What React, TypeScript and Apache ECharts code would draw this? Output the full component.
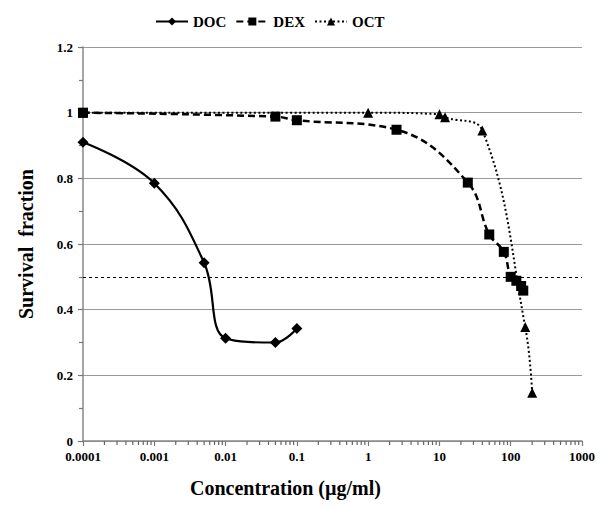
import React, { useEffect, useRef } from "react";
import * as echarts from "echarts";

const xTickLabels = ["0.0001", "0.001", "0.01", "0.1", "1", "10", "100", "1000"];
const xDecades = [0.0001, 0.001, 0.01, 0.1, 1, 10, 100];
const minorMultipliers = [2, 3, 4, 5, 6, 7, 8, 9];

const docX = [0.0001, 0.001, 0.005, 0.01, 0.05, 0.1];
const docY = [0.91, 0.785, 0.543, 0.313, 0.30, 0.343];

const dexX = [0.0001, 0.05, 0.1, 2.5, 25, 50, 80, 100, 120, 140, 150];
const dexY = [1.0, 0.988, 0.977, 0.948, 0.787, 0.629, 0.576, 0.50, 0.488, 0.472, 0.458];

const octX = [0.0001, 1, 10, 12, 40, 160, 200];
const octY = [1.0, 1.0, 0.995, 0.986, 0.946, 0.347, 0.147];

const FONT = "Liberation Serif";

function pairs(xs: number[], ys: number[]) {
  return xs.map((x, i) => [x, ys[i]]);
}

const minorTickValues: number[][] = [];
xDecades.forEach((d) => minorMultipliers.forEach((m) => minorTickValues.push([d * m, 0])));

export default function App() {
  const ref = useRef<HTMLDivElement>(null);
  useEffect(() => {
    if (!ref.current) return;
    const chart = echarts.init(ref.current, undefined, { renderer: "svg" });
    chart.setOption({
      animation: false,
      backgroundColor: "#fff",
      legend: {
        top: 1,
        left: 142,
        itemWidth: 32,
        itemHeight: 10,
        itemGap: 9,
        textStyle: { fontFamily: FONT, fontWeight: "bold", fontSize: 15, color: "#000" },
        data: ["DOC", "DEX", "OCT"],
      },
      grid: { left: 66, right: 15, top: 39, bottom: 52, containLabel: false },
      xAxis: {
        type: "log",
        logBase: 10,
        min: 0.0001,
        max: 1000,
        name: "Concentration (µg/ml)",
        nameLocation: "middle",
        nameGap: 37,
        nameTextStyle: {
          fontFamily: FONT,
          fontWeight: "bold",
          fontSize: 20,
          color: "#000000",
          padding: [0, 94, 0, 0],
        },
        axisLine: { show: true, lineStyle: { color: "#888", width: 1.5 } },
        axisTick: { show: true, length: 5, lineStyle: { color: "#777", width: 1.2 } },
        minorTick: { show: false },
        splitLine: { show: false },
        axisLabel: {
          fontFamily: FONT,
          fontWeight: "bold",
          fontSize: 13,
          color: "#000",
          margin: 9,
          formatter: (v: number) => xTickLabels[Math.round(Math.log10(v)) + 4],
        },
      },
      yAxis: {
        type: "value",
        min: 0,
        max: 1.2,
        interval: 0.2,
        name: "Survival  fraction",
        nameLocation: "middle",
        nameGap: 47,
        nameTextStyle: { fontFamily: FONT, fontWeight: "bold", fontSize: 20, color: "#000000" },
        axisLine: { show: true, lineStyle: { color: "#888", width: 1.5 } },
        axisTick: { show: true, length: 5, lineStyle: { color: "#777", width: 1.2 } },
        minorTick: { show: true, splitNumber: 2, length: 4, lineStyle: { color: "#777", width: 1.2 } },
        splitLine: { show: true, lineStyle: { color: "#999", width: 1.2 } },
        axisLabel: {
          fontFamily: FONT,
          fontWeight: "bold",
          fontSize: 13,
          color: "#000",
          margin: 10,
        },
      },
      series: [
        {
          name: "minorTicks",
          type: "custom",
          data: minorTickValues,
          silent: true,
          clip: false,
          z: 5,
          renderItem: (params: any, api: any) => {
            const p = api.coord([api.value(0), 0]);
            return {
              type: "line",
              shape: { x1: p[0], y1: p[1], x2: p[0], y2: p[1] + 4 },
              style: { stroke: "#666", lineWidth: 1.2 },
            };
          },
        },
        {
          name: "DOC",
          type: "line",
          data: pairs(docX, docY),
          smooth: 0.4,
          symbol: "diamond",
          symbolSize: 11,
          itemStyle: { color: "#000" },
          lineStyle: { color: "#000", width: 2.2, type: "solid" },
          z: 3,
        },
        {
          name: "DEX",
          type: "line",
          data: pairs(dexX, dexY),
          smooth: 0.4,
          symbol: "rect",
          symbolSize: 10,
          itemStyle: { color: "#000" },
          lineStyle: { color: "#000", width: 2.5, type: [7, 4] },
          z: 4,
          markLine: {
            silent: true,
            symbol: "none",
            label: { show: false },
            lineStyle: { color: "#000", width: 1, type: [3, 3] },
            data: [{ yAxis: 0.5 }],
          },
        },
        {
          name: "OCT",
          type: "line",
          data: pairs(octX, octY),
          smooth: 0.4,
          symbol: "triangle",
          symbolSize: 10,
          itemStyle: { color: "#000" },
          lineStyle: { color: "#000", width: 2, type: [2, 2.5] },
          z: 2,
        },
      ],
    });
    return () => chart.dispose();
  }, []);
  return <div ref={ref} style={{ width: 590, height: 495 }} />;
}
